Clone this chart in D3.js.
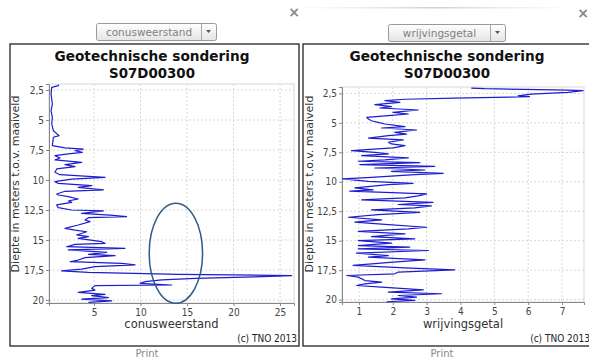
<!DOCTYPE html>
<html>
<head>
<meta charset="utf-8">
<script src="https://cdn.jsdelivr.net/npm/d3@7/dist/d3.min.js"></script>
<style>
  html, body { margin: 0; padding: 0; background: #fff; }
  svg { display: block; }
</style>
</head>
<body>
<svg id="chart" width="589" height="360"></svg>
<script>
// Cone resistance (conusweerstand, MPa) against depth (m below ground level)
const qcDepth = [2.05, 2.14, 2.28, 2.83, 3.67, 4.22, 4.78, 5.33, 5.89, 6.30, 6.44, 7.14, 7.33, 7.42, 7.56, 7.69, 7.83, 7.97,
  8.17, 8.33, 8.53, 8.72, 8.89, 9.08, 9.36, 9.56, 9.78, 9.92, 10.14, 10.28, 10.47, 10.61, 10.83, 10.94, 11.17, 11.25,
  11.39, 11.58, 11.75, 11.86, 12.08, 12.30, 12.50, 12.58, 12.78, 12.92, 13.06, 13.14, 13.33, 13.47, 13.75, 14.03, 14.17,
  14.31, 14.58, 14.72, 14.86, 15.14, 15.28, 15.36, 15.56, 15.69, 15.83, 16.03, 16.19, 16.31, 16.47, 16.67, 16.81, 16.94,
  17.08, 17.22, 17.42, 17.58, 17.69, 17.86, 17.97, 18.08, 18.19, 18.33, 18.47, 18.61, 18.75, 18.80, 19.03, 19.17, 19.36,
  19.53, 19.64, 19.81, 19.92, 20.08, 20.19];
const qcValue = [1.2, 1.16, 0.45, 0.38, 0.52, 0.38, 0.52, 0.45, 0.63, 1.24, 0.63, 0.52, 1.88, 3.85, 2.96, 3.75, 2.24, 0.8,
  1.34, 0.8, 3.67, 1.88, 2.96, 0.99, 0.8, 1.34, 6.18, 2.6, 0.8, 1.16, 4.75, 3.3, 6.0, 1.88, 0.99, 1.16,
  2.24, 3.3, 2.24, 2.6, 0.99, 1.16, 2.6, 6.0, 3.67, 6.72, 8.5, 4.4, 4.03, 4.57, 3.3, 1.88, 2.96,
  4.21, 3.14, 4.4, 3.3, 5.82, 6.18, 2.96, 2.06, 8.33, 2.24, 6.36, 4.4, 7.26, 4.03, 3.3, 2.42, 7.97,
  9.41, 5.1, 3.67, 1.52, 4.4, 14.1, 26.25, 22.3, 15.9, 12.3, 10.5, 9.95, 13.35, 5.1, 4.75, 5.1, 3.3,
  6.18, 4.75, 6.54, 3.67, 6.9, 4.4];

// Friction ratio (wrijvingsgetal, %) against depth
const frDepth = [2.05, 2.10, 2.22, 2.27, 2.42, 2.56, 2.70, 2.78, 2.90, 3.00, 3.12, 3.26, 3.46, 3.63, 3.74, 3.91, 4.11,
  4.25, 4.39, 4.53, 4.68, 4.82, 4.96, 5.10, 5.32, 5.44, 5.61, 5.81, 5.95, 6.09, 6.29, 6.45, 6.65, 6.79, 6.94, 7.13,
  7.36, 7.50, 7.64, 7.78, 7.98, 8.15, 8.26, 8.38, 8.55, 8.69, 8.83, 9.00, 9.11, 9.28, 9.39, 9.62, 9.76, 9.96, 10.13,
  10.24, 10.52, 10.69, 10.80, 11.03, 11.20, 11.37, 11.54, 11.74, 11.93, 12.05, 12.22, 12.39, 12.59, 12.78, 13.01,
  13.23, 13.43, 13.63, 13.86, 14.00, 14.20, 14.42, 14.65, 14.84, 14.99, 15.21, 15.41, 15.55, 15.69, 15.83, 16.06,
  16.26, 16.40, 16.62, 16.82, 17.10, 17.30, 17.47, 17.66, 17.81, 17.95, 18.09, 18.38, 18.52, 18.66, 18.80, 18.94,
  19.17, 19.36, 19.50, 19.65, 19.79, 19.93, 20.07, 20.18];
const frValue = [4.32, 4.72, 7.17, 7.62, 7.17, 6.09, 5.7, 6.04, 3.83, 2.36, 1.77, 2.21, 1.47, 1.96, 1.62, 2.75, 2.01,
  2.46, 1.87, 1.23, 1.28, 1.37, 1.57, 1.77, 2.36, 1.67, 2.7, 2.06, 2.41, 1.87, 1.28, 2.31, 1.87, 1.96, 2.36, 2.01,
  0.78, 1.47, 1.87, 1.08, 2.46, 1.77, 0.98, 2.8, 1.03, 3.24, 1.47, 2.95, 1.96, 3.49, 2.65, 1.37, 0.52, 1.28, 2.6,
  1.87, 0.88, 1.42, 0.73, 3.0, 2.75, 2.36, 1.08, 3.19, 2.16, 3.14, 2.65, 1.37, 2.8, 1.57, 0.69,
  1.67, 0.88, 1.87, 3.0, 2.46, 0.98, 2.36, 1.37, 2.65, 0.98, 1.96, 0.98, 2.5, 0.98, 3.05, 0.93,
  1.87, 1.28, 2.95, 2.01, 0.83, 2.36, 3.83, 2.16, 2.06, 0.64, 0.98, 1.18, 1.67, 1.18, 0.93, 1.67,
  2.9, 1.87, 3.44, 2.16, 2.7, 1.96, 2.65, 1.82];

const depthTicks = [2.5, 5, 7.5, 10, 12.5, 15, 17.5, 20];
const qcTicks = [5, 10, 15, 20, 25];
const frTicks = [1, 2, 3, 4, 5, 6, 7];

// Highlight ellipse on the cone resistance chart: centre and radii in data units
const markCentre = [13.8, 16.1];
const markRadius = [2.87, 4.17];

const titleLines = ["Geotechnische sondering", "S07D00300"];
const yLabel = "Diepte in meters t.o.v. maaiveld";
const credit = "(c) TNO 2013";

const svg = d3.select("#chart");
const fmt = d => String(d).replace(".", ",");
const lineColor = "#1c1cd0";
const tickFont = "DejaVu Sans Condensed, DejaVu Sans, sans-serif";

function panel(cfg) {
  const g = svg.append("g");

  // selector box above the chart
  const dd = g.append("g").attr("transform", `translate(${cfg.dd[0]},${cfg.dd[1]})`);
  const grad = svg.append("defs").append("linearGradient")
    .attr("id", "dg" + cfg.id).attr("x1", 0).attr("y1", 0).attr("x2", 0).attr("y2", 1);
  grad.append("stop").attr("offset", 0).attr("stop-color", "#ffffff");
  grad.append("stop").attr("offset", 1).attr("stop-color", "#e4e4e4");
  dd.append("rect").attr("x", 0.5).attr("y", 0.5).attr("width", cfg.dd[2]).attr("height", 17)
    .attr("rx", 2).attr("fill", `url(#dg${cfg.id})`).attr("stroke", "#9a9a9a");
  dd.append("line").attr("x1", cfg.dd[2] - 14.5).attr("x2", cfg.dd[2] - 14.5).attr("y1", 1).attr("y2", 17)
    .attr("stroke", "#a8a8a8");
  dd.append("path").attr("d", `M${cfg.dd[2] - 10},7 l5,0 l-2.5,3 z`).attr("fill", "#555");
  dd.append("text").attr("x", (cfg.dd[2] - 14) / 2).attr("y", 13).attr("text-anchor", "middle")
    .attr("font-family", "DejaVu Sans, sans-serif").attr("font-size", 10.5).attr("fill", "#808080")
    .text(cfg.name);

  // close icon
  g.append("text").attr("x", cfg.close[0]).attr("y", cfg.close[1]).attr("text-anchor", "middle")
    .attr("font-family", "DejaVu Sans, sans-serif").attr("font-weight", "bold").attr("font-size", 14)
    .attr("fill", "#8a8a8a").text("×");

  // panel frame
  g.append("rect").attr("x", cfg.frame[0]).attr("y", cfg.frame[1])
    .attr("width", cfg.frame[2] - cfg.frame[0]).attr("height", cfg.frame[3] - cfg.frame[1])
    .attr("fill", "#fff").attr("stroke", "#333").attr("stroke-width", 1.4);

  // title
  titleLines.forEach((t, i) => {
    g.append("text").attr("x", cfg.cx).attr("y", 61 + i * 17).attr("text-anchor", "middle")
      .attr("font-family", "DejaVu Sans, sans-serif").attr("font-weight", "bold").attr("font-size", 14.5)
      .attr("fill", "#111")
      .attr("textLength", i === 0 ? 195 : 86).attr("lengthAdjust", "spacingAndGlyphs")
      .text(t);
  });

  const p = cfg.plot;
  const x = d3.scaleLinear().domain(cfg.xDomain).range([p.l, p.r]);
  const y = d3.scaleLinear().domain(cfg.yDomain).range([p.t, p.b]);

  g.append("rect").attr("x", p.l).attr("y", p.t).attr("width", p.r - p.l).attr("height", p.b - p.t)
    .attr("fill", "#fff").attr("stroke", "#d8d8d8");

  // grid
  g.append("g").selectAll("line").data(cfg.xTicks).join("line")
    .attr("x1", d => x(d)).attr("x2", d => x(d)).attr("y1", p.t).attr("y2", p.b)
    .attr("stroke", "#d6d6d6").attr("stroke-dasharray", "2,2");
  g.append("g").selectAll("line").data(depthTicks).join("line")
    .attr("x1", p.l).attr("x2", p.r).attr("y1", d => y(d)).attr("y2", d => y(d))
    .attr("stroke", "#d6d6d6").attr("stroke-dasharray", "2,2");

  // axes
  const ax = g.append("g").attr("transform", `translate(0,${p.b})`)
    .call(d3.axisBottom(x).tickValues(cfg.xTicks).tickFormat(fmt).tickSize(3).tickPadding(3));
  const ay = g.append("g").attr("transform", `translate(${p.l},0)`)
    .call(d3.axisLeft(y).tickValues(depthTicks).tickFormat(fmt).tickSize(3).tickPadding(2));
  [ax, ay].forEach(a => {
    a.select(".domain").attr("stroke", "#888");
    a.selectAll(".tick line").attr("stroke", "#888");
    a.selectAll("text").attr("font-family", tickFont).attr("font-size", 10).attr("fill", "#444");
  });

  // profile line
  const pts = cfg.depth.map((d, i) => [cfg.values[i], d]);
  g.append("path").datum(pts)
    .attr("d", d3.line().x(d => x(d[0])).y(d => y(d[1])))
    .attr("fill", "none").attr("stroke", lineColor).attr("stroke-width", 1.2)
    .attr("stroke-linejoin", "round");

  if (cfg.mark) {
    const [mx, my] = cfg.mark.centre;
    const [rx, ry] = cfg.mark.radius;
    g.append("ellipse").attr("cx", x(mx)).attr("cy", y(my))
      .attr("rx", x(mx + rx) - x(mx)).attr("ry", y(my + ry) - y(my))
      .attr("fill", "none").attr("stroke", "#2e5b8c").attr("stroke-width", 1.5);
  }

  // axis titles
  g.append("text").attr("x", (p.l + p.r) / 2).attr("y", 328).attr("text-anchor", "middle")
    .attr("font-family", "DejaVu Sans, sans-serif").attr("font-size", 11.5).attr("fill", "#333")
    .text(cfg.name);
  g.append("text").attr("transform", `translate(${cfg.yLabelX},184) rotate(-90)`)
    .attr("text-anchor", "middle").attr("font-family", "DejaVu Sans, sans-serif")
    .attr("font-size", 11).attr("fill", "#333").text(yLabel);

  g.append("text").attr("x", cfg.frame[2] - 2).attr("y", 342).attr("text-anchor", "end")
    .attr("font-family", tickFont).attr("font-size", 10).attr("fill", "#222")
    .text(credit);

  g.append("text").attr("x", cfg.cx - 5).attr("y", 357).attr("text-anchor", "middle")
    .attr("font-family", "DejaVu Sans, sans-serif").attr("font-size", 10).attr("fill", "#888")
    .text("Print");
}

// faint header rule of the second window
const hg = svg.append("defs").append("linearGradient").attr("id", "hdr");
hg.append("stop").attr("offset", 0).attr("stop-color", "#e8e8e8").attr("stop-opacity", 0.2);
hg.append("stop").attr("offset", 0.5).attr("stop-color", "#d0d0d0");
hg.append("stop").attr("offset", 1).attr("stop-color", "#e8e8e8").attr("stop-opacity", 0.2);
svg.append("rect").attr("x", 305).attr("y", 7).attr("width", 260).attr("height", 1.5).attr("fill", "url(#hdr)");

panel({
  id: 1, name: "conusweerstand", dd: [96, 23, 120], close: [294, 17],
  frame: [10, 44, 299, 346], cx: 152,
  plot: { l: 49, r: 294, t: 84, b: 303 },
  xDomain: [0.16, 26.5], yDomain: [2.0, 20.25], xTicks: qcTicks,
  depth: qcDepth, values: qcValue, yLabelX: 19,
  mark: { centre: markCentre, radius: markRadius }
});

panel({
  id: 2, name: "wrijvingsgetal", dd: [388, 24, 117], close: [583, 18],
  frame: [303, 44, 592, 346], cx: 447,
  plot: { l: 342, r: 584, t: 87, b: 302 },
  xDomain: [0.5, 7.65], yDomain: [1.96, 20.2], xTicks: frTicks,
  depth: frDepth, values: frValue, yLabelX: 313
});
</script>
</body>
</html>
